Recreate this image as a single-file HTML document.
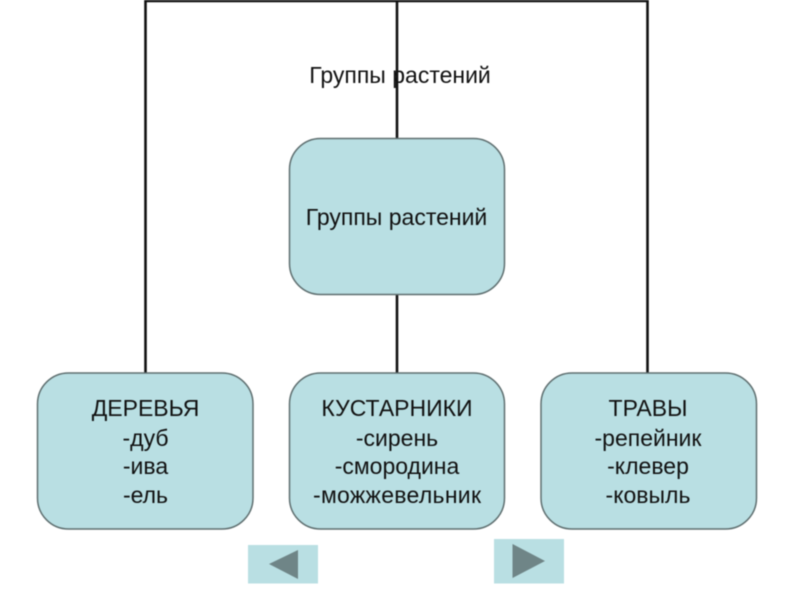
<!DOCTYPE html>
<html><head><meta charset="utf-8">
<style>
html,body{margin:0;padding:0;background:#fff;width:800px;height:600px;overflow:hidden}
svg{display:block;filter:blur(0.45px)}
text{font-family:"Liberation Sans",sans-serif;fill:#111;text-anchor:middle;font-size:23px}
</style></head>
<body>
<svg width="800" height="600" viewBox="0 0 800 600">
<g fill="none" stroke="#111" stroke-width="2.6">
<path d="M145.500 373V1H647.500V373"/>
<path d="M397 0V139"/>
<path d="M397 294V373"/>
</g>
<text x="400" y="83">Группы растений</text>
<g fill="#b9dfe3" stroke="#5f6f70" stroke-width="1.500">
<rect x="289.500" y="138.500" width="215" height="156" rx="31"/>
<rect x="37.500" y="373" width="215.500" height="156" rx="31"/>
<rect x="289.500" y="373" width="215" height="156" rx="31"/>
<rect x="541" y="373" width="215.500" height="156" rx="31"/>
</g>
<text x="396.500" y="225">Группы растений</text>
<text x="145.500" y="416">ДЕРЕВЬЯ</text>
<text x="145.500" y="446">-дуб</text>
<text x="145.500" y="474">-ива</text>
<text x="145.500" y="503">-ель</text>
<text x="397" y="416">КУСТАРНИКИ</text>
<text x="397" y="446">-сирень</text>
<text x="397" y="474">-смородина</text>
<text x="397" y="503" textLength="168" lengthAdjust="spacing">-можжевельник</text>
<text x="648" y="416">ТРАВЫ</text>
<text x="648" y="446">-репейник</text>
<text x="648" y="474">-клевер</text>
<text x="648" y="503">-ковыль</text>
<rect x="248" y="545" width="70" height="38.500" fill="#b9dfe3"/>
<polygon points="269,564 298,550 298,579" fill="#6f8587"/>
<rect x="494" y="539" width="70" height="44.500" fill="#b9dfe3"/>
<polygon points="512.500,544 545,561 512.500,578" fill="#6f8587"/>
</svg>
</body></html>
